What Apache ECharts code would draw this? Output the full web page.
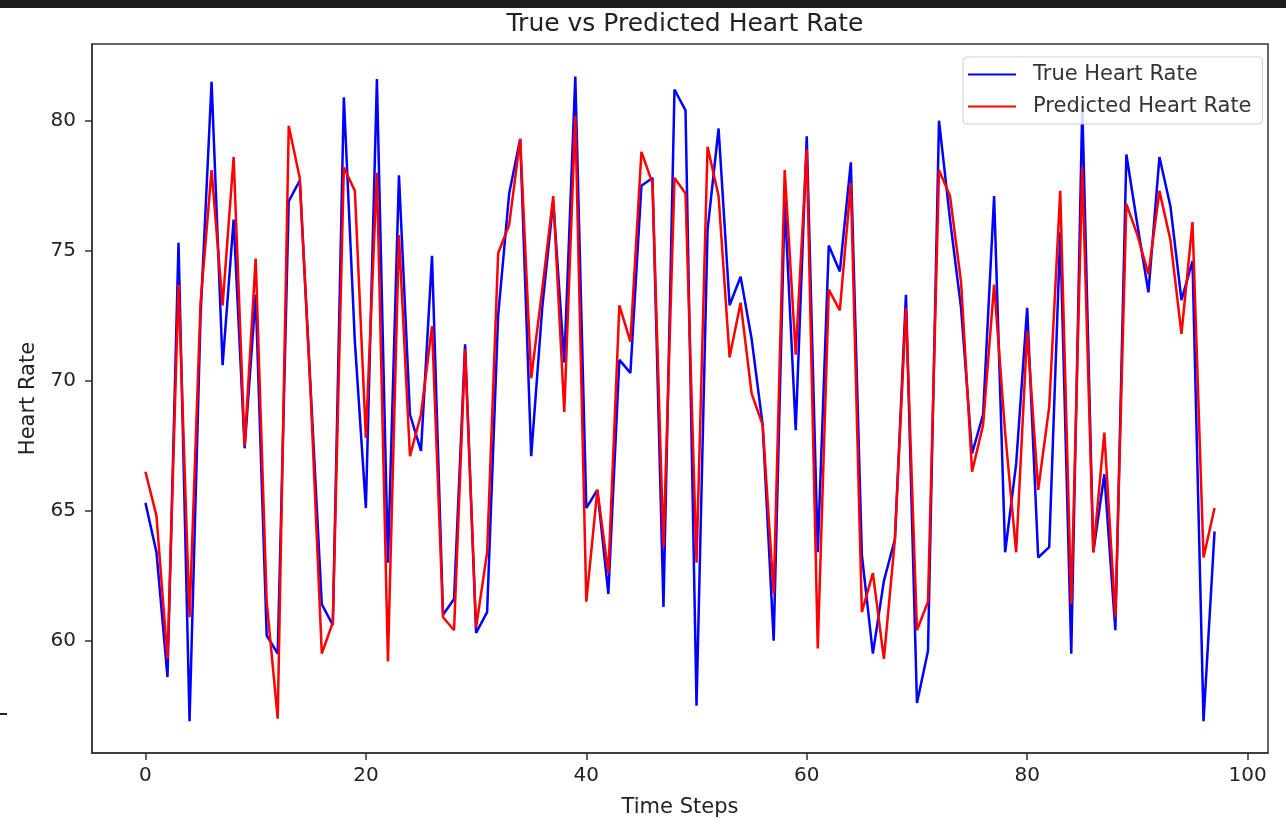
<!DOCTYPE html>
<html>
<head>
<meta charset="utf-8">
<script src="https://cdn.jsdelivr.net/npm/echarts@6/dist/echarts.min.js"></script>
<style>
  html, body { margin: 0; padding: 0; background: #fff; }
  #main { width: 1286px; height: 819px; }
</style>
</head>
<body>
<div id="main"></div>
<script>
// values, one per time step
const trueHR = [
  65.3, 63.4, 58.6, 75.3, 56.9, 72.5, 81.5, 70.6, 76.2, 67.4,
  73.3, 60.2, 59.5, 76.9, 77.7, 69.6, 61.4, 60.6, 80.9, 71.5,
  65.1, 81.6, 63.0, 77.9, 68.7, 67.3, 74.8, 61.0, 61.6, 71.4,
  60.3, 61.1, 72.5, 77.2, 79.3, 67.1, 72.8, 76.9, 70.7, 81.7,
  65.1, 65.8, 61.8, 70.8, 70.3, 77.5, 77.8, 61.3, 81.2, 80.4,
  57.5, 75.8, 79.7, 72.9, 74.0, 71.6, 68.3, 60.0, 76.9, 68.1,
  79.4, 63.4, 75.2, 74.2, 78.4, 63.3, 59.5, 62.3, 63.9, 73.3,
  57.6, 59.6, 80.0, 76.2, 72.8, 67.2, 68.7, 77.1, 63.4, 66.8,
  72.8, 63.2, 63.6, 75.7, 59.5, 80.6, 63.4, 66.4, 60.4, 78.7,
  76.0, 73.4, 78.6, 76.7, 73.1, 74.6, 56.9, 64.2
]
const predHR = [
  66.5, 64.8, 59.3, 73.7, 60.9, 73.0, 78.1, 72.9, 78.6, 67.5,
  74.7, 61.5, 57.0, 79.8, 77.8, 69.4, 59.5, 60.7, 78.2, 77.3,
  67.8, 78.0, 59.2, 75.6, 67.1, 68.7, 72.1, 60.9, 60.4, 71.2,
  60.5, 63.4, 74.9, 76.0, 79.3, 70.1, 73.5, 77.1, 68.8, 80.2,
  61.5, 65.8, 62.6, 72.9, 71.5, 78.8, 77.6, 63.6, 77.8, 77.2,
  63.0, 79.0, 77.1, 70.9, 73.0, 69.5, 68.3, 61.8, 78.1, 71.0,
  78.9, 59.7, 73.5, 72.7, 77.6, 61.1, 62.6, 59.3, 63.9, 72.8,
  60.4, 61.5, 78.1, 77.1, 73.8, 66.5, 68.3, 73.7, 68.0, 63.4,
  71.9, 65.8, 69.0, 77.3, 61.4, 78.2, 63.4, 68.0, 60.9, 76.8,
  75.6, 74.1, 77.3, 75.4, 71.8, 76.1, 63.2, 65.1
]
const xTicks = [0, 20, 40, 60, 80, 100]
const yTicks = [60, 65, 70, 75, 80]

const font = 'DejaVu Sans'
const axisColor = '#333'
const textColor = '#222'

const chart = echarts.init(document.getElementById('main'))

const toPairs = (arr) => arr.map((v, i) => [i, v])

const option = {
  animation: false,
  backgroundColor: '#fff',
  title: {
    text: 'True vs Predicted Heart Rate',
    left: 680,
    textAlign: 'center',
    top: 7,
    textStyle: { fontFamily: font, fontSize: 25, fontWeight: 'normal', color: textColor }
  },
  legend: {
    orient: 'vertical',
    left: 963,
    top: 57,
    icon: 'rect',
    itemWidth: 48,
    itemHeight: 2,
    itemGap: 11,
    padding: [7, 11, 7, 5],
    backgroundColor: 'rgba(255,255,255,0.85)',
    borderColor: '#d0d0d0',
    borderWidth: 1,
    borderRadius: 4,
    textStyle: { fontFamily: font, fontSize: 21, color: '#333', padding: [0, 0, 0, 12] },
    data: ['True Heart Rate', 'Predicted Heart Rate']
  },
  grid: {
    left: 92,
    right: 18,
    top: 44,
    bottom: 66,
    outerBoundsMode: 'none',
    show: true,
    borderColor: axisColor,
    borderWidth: 1.5,
    backgroundColor: 'transparent'
  },
  xAxis: {
    type: 'value',
    min: -4.85,
    max: 101.85,
    name: 'Time Steps',
    nameLocation: 'middle',
    nameGap: 44,
    nameTextStyle: { fontFamily: font, fontSize: 21, color: textColor },
    splitLine: { show: false },
    axisLine: { onZero: false, lineStyle: { color: axisColor, width: 1.5 } },
    axisTick: { customValues: xTicks, length: 7, lineStyle: { color: axisColor, width: 1.5 } },
    axisLabel: { customValues: xTicks, margin: 13, fontFamily: font, fontSize: 20, color: textColor }
  },
  yAxis: {
    type: 'value',
    min: 55.68,
    max: 82.95,
    name: 'Heart Rate',
    nameLocation: 'middle',
    nameGap: 53,
    nameTextStyle: { fontFamily: font, fontSize: 21, color: textColor },
    splitLine: { show: false },
    axisLine: { show: true, onZero: false, lineStyle: { color: axisColor, width: 1.5 } },
    axisTick: { show: true, customValues: yTicks, length: 7, lineStyle: { color: axisColor, width: 1.5 } },
    axisLabel: { customValues: yTicks, margin: 16, fontFamily: font, fontSize: 20, color: textColor }
  },
  series: [
    {
      name: 'True Heart Rate',
      type: 'line',
      symbol: 'none',
      lineStyle: { color: '#0000ff', width: 2.5 },
      itemStyle: { color: '#0000ff' },
      data: toPairs(trueHR)
    },
    {
      name: 'Predicted Heart Rate',
      type: 'line',
      symbol: 'none',
      lineStyle: { color: '#ff0000', width: 2.5 },
      itemStyle: { color: '#ff0000' },
      data: toPairs(predHR)
    }
  ],
  graphic: [
    // dark strip along the top edge of the screenshot
    { type: 'rect', left: 0, top: 0, shape: { width: 1286, height: 8 }, style: { fill: '#1e1e1e' } },
    // stray tick mark at the far left
    { type: 'rect', left: 0, top: 713, shape: { width: 7, height: 2 }, style: { fill: '#222' } }
  ]
}

chart.setOption(option)
</script>
</body>
</html>
